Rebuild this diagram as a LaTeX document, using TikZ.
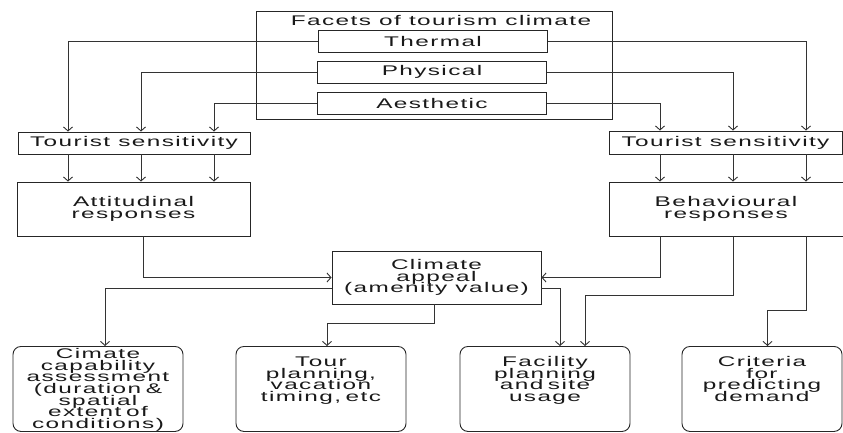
\documentclass[tikz,border=0pt]{standalone}
\usepackage{fontspec}
\setmainfont[FakeStretch=1.74,LetterSpace=10]{Liberation Sans}
\usetikzlibrary{arrows.meta}

\newcommand\boxfont{\fontsize{14}{11.7}\selectfont\lineskiplimit=-20pt\relax}

\tikzset{
	box/.style={draw=black!85, line width=0.9pt, inner sep=0pt, align=center, text=black!90, font=\boxfont},
	facet/.style={box, minimum width=229pt, minimum height=22pt},
	endbox/.style={box, rounded corners=8pt, anchor=north, text width=170pt, text height=20pt, text depth=65pt},
	link/.style={draw=black!80, line width=0.9pt, -{Straight Barb[length=4pt,width=9pt]}}
}

\begin{document}
\begin{tikzpicture}[x=1pt,y=-1pt]
	\useasboundingbox (0,0) rectangle (843,432);
	\node[box, anchor=north, minimum width=356pt, text height=14pt, text depth=94pt] (facets) at (434,11) {\hspace*{14pt}Facets of tourism climate};
	\node[facet] (thermal) at (433,41.5) {Thermal};
	\node[facet] (physical) at (432,72) {Physical};
	\node[facet] (aesthetic) at (432,103) {Aesthetic};
	\node[box, minimum width=232pt, minimum height=22pt] (senseL) at (134,143) {Tourist sensitivity};
	\node[box, minimum width=233pt, minimum height=54pt] (attitude) at (133.5,209) {Attitudinal\\responses};
	\node[box, minimum width=233pt, minimum height=23pt] (senseR) at (725.5,142.5) {Tourist sensitivity};
	\node[box, minimum width=234pt, minimum height=54pt] (behaviour) at (726,209) {Behavioural\\responses};
	\node[box, minimum width=209pt, minimum height=53pt] (appeal) at (436.5,277.5) {Climate\\appeal\\(amenity value)};
	\node[endbox, text height=12pt, text depth=73pt] (capability) at (98,346) {Cimate\\capability\\assessment\\(duration \&\\spatial\\extent of\\conditions)};
	\node[endbox] (tour) at (321,346) {Tour\\planning,\\vacation\\timing, etc};
	\node[endbox] (facility) at (545,346) {Facility\\planning\\and site\\usage};
	\node[endbox, text width=160pt] (criteria) at (762,346) {Criteria\\for\\predicting\\demand};
	\coordinate (l1) at (68,0);
	\coordinate (l2) at (141,0);
	\coordinate (l3) at (214,0);
	\coordinate (r1) at (806,0);
	\coordinate (r2) at (733,0);
	\coordinate (r3) at (660,0);
	\draw[link] (thermal.west) -| (l1 |- senseL.north);
	\draw[link] (physical.west) -| (l2 |- senseL.north);
	\draw[link] (aesthetic.west) -| (l3 |- senseL.north);
	\draw[link] (thermal.east) -| (r1 |- senseR.north);
	\draw[link] (physical.east) -| (r2 |- senseR.north);
	\draw[link] (aesthetic.east) -| (r3 |- senseR.north);
	\foreach \c in {l1,l2,l3}
		\draw[link] (\c |- senseL.south) -- (\c |- attitude.north);
	\foreach \c in {r1,r2,r3}
		\draw[link] (\c |- senseR.south) -- (\c |- behaviour.north);
	\draw[link] ([xshift=9.5pt]attitude.south) |- (appeal.west);
	\draw[link] (r3 |- behaviour.south) |- (appeal.east);
	\draw[link] ([yshift=-10.5pt]appeal.west) -| ([xshift=7pt]capability.north);
	\draw[link] ([xshift=-2.5pt]appeal.south) -- ++(0,19) -| ([xshift=6pt]tour.north);
	\draw[link] ([yshift=-10.5pt]appeal.east) -| ([xshift=15pt]facility.north);
	\draw[link] (r2 |- behaviour.south) -- ++(0,59) -| ([xshift=40pt]facility.north);
	\draw[link] (r1 |- behaviour.south) -- ++(0,74) -| ([xshift=5.5pt]criteria.north);
\end{tikzpicture}
\end{document}
